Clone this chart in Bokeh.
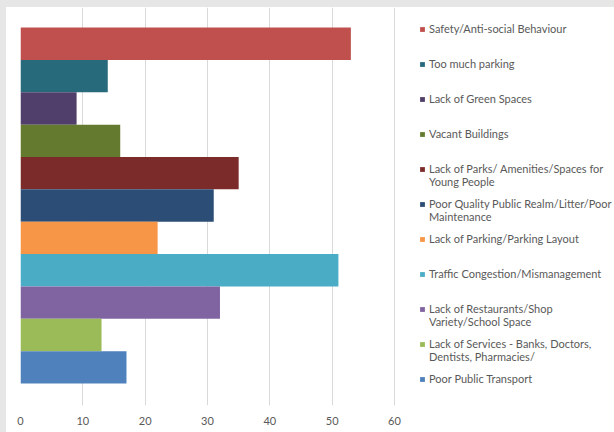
import numpy as np
from bokeh.plotting import figure
from bokeh.models import Range1d, Legend, LegendItem, ColumnDataSource, SingleIntervalTicker
from bokeh.embed import file_html
from bokeh.resources import INLINE

categories = [
    "Safety/Anti-social Behaviour",
    "Too much parking",
    "Lack of Green Spaces",
    "Vacant Buildings",
    "Lack of Parks/ Amenities/Spaces for\nYoung People",
    "Poor Quality Public Realm/Litter/Poor\nMaintenance",
    "Lack of Parking/Parking Layout",
    "Traffic Congestion/Mismanagement",
    "Lack of Restaurants/Shop\nVariety/School Space",
    "Lack of Services - Banks, Doctors,\nDentists, Pharmacies/",
    "Poor Public Transport",
]
values = [53, 14, 9, 16, 35, 31, 22, 51, 32, 13, 17]
colors = ["#C0504D", "#276A7C", "#4F3F6A", "#647B2F", "#7B2C2A", "#2C4D75",
          "#F79646", "#4BACC6", "#8064A2", "#9BBB59", "#4F81BD"]
x_max = 60

n = len(categories)
ypos = (n - 1 - np.arange(n)).astype(float)

# frame spans the plot area plus the legend area; grid/axis bounded to 0..60
frame_w = 594
plot_w = 374
p = figure(width=614, height=432, output_backend="svg", toolbar_location=None,
           x_range=Range1d(0, x_max * frame_w / plot_w),
           y_range=Range1d(-0.5 - 0.68, n - 0.5 + 0.62),
           min_border_left=20, min_border_right=0, min_border_top=7, min_border_bottom=27,
           background_fill_color="white", border_fill_color=None)
p.styles = {"background-color": "white", "box-shadow": "inset 6px 7px 0 0 #E6E6E6"}
p.outline_line_color = None
p.yaxis.visible = False
p.ygrid.grid_line_color = None
p.xgrid.grid_line_color = "#D9D9D9"
p.xgrid.ticker = SingleIntervalTicker(interval=10)
p.xgrid.bounds = (0, x_max)
p.xaxis.ticker = SingleIntervalTicker(interval=10)
p.xaxis.bounds = (0, x_max)
p.xaxis.axis_line_color = None
p.xaxis.major_tick_line_color = None
p.xaxis.minor_tick_line_color = None
p.xaxis.major_label_text_color = "#595959"
p.xaxis.major_label_text_font = "Lato"
p.xaxis.major_label_text_font_size = "11px"
p.xaxis.major_label_standoff = 5

glyph_items = []
text_items = []
for i in range(n):
    src = ColumnDataSource(dict(y=[ypos[i]], right=[values[i]]))
    r = p.hbar(y="y", right="right", left=0, height=1.0, source=src,
               fill_color=colors[i], line_color=None)
    glyph_items.append(LegendItem(label="\u00a0", renderers=[r]))
    lab = categories[i] if "\n" in categories[i] else categories[i] + "\n\u00a0"
    text_items.append(LegendItem(label=lab, renderers=[r]))

common = dict(margin=0, padding=0, label_text_font="Lato", label_text_font_size="11px",
              label_text_color="#595959", label_height=13,
              border_line_color=None, background_fill_alpha=0)

# colour keys (one line per entry)
legend_keys = Legend(items=glyph_items, location=(399, 20), glyph_width=6, glyph_height=6,
                     label_standoff=0, spacing=22, **common)
# entry texts (two lines per entry, first line level with the key)
legend_text = Legend(items=text_items, location=(409, 7), glyph_width=0, glyph_height=6,
                     label_standoff=0, spacing=9, **common)
p.add_layout(legend_keys)
p.add_layout(legend_text)

open("out.html", "w").write(file_html(p, INLINE))
